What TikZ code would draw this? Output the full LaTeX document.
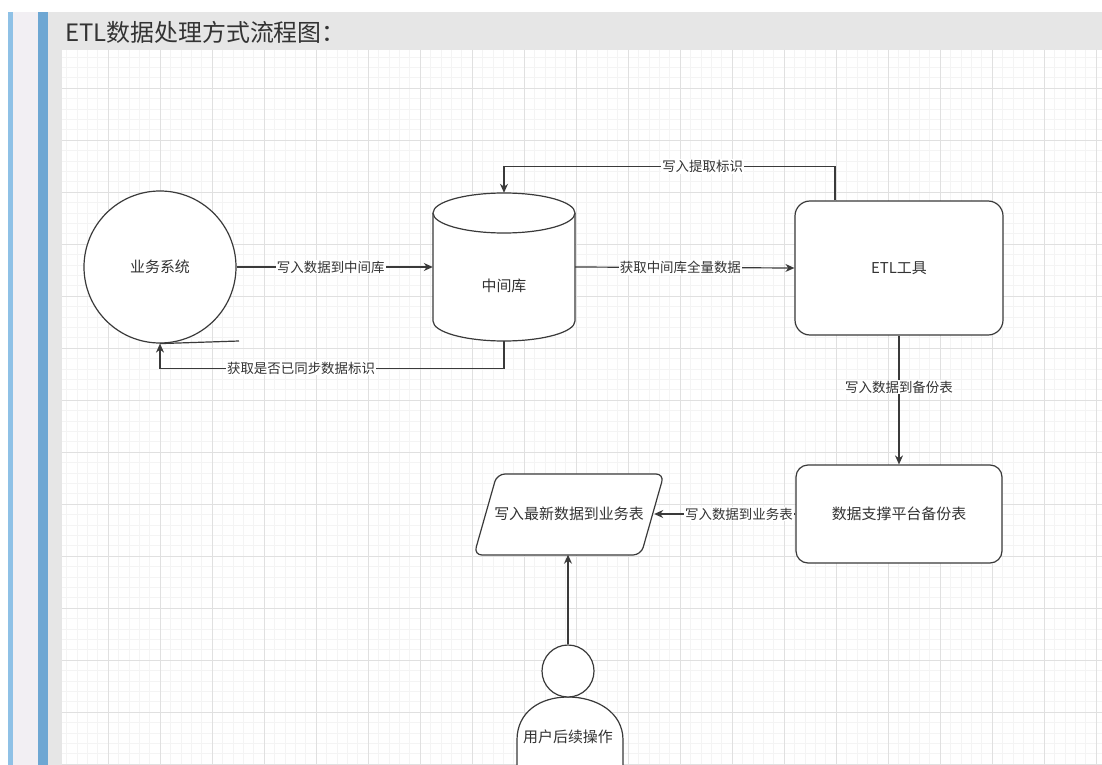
\documentclass[tikz,border=0pt]{standalone}
\usepackage{fontspec}
\setmainfont{Noto Sans CJK SC}
\usetikzlibrary{arrows.meta}

\definecolor{gridminor}{HTML}{F4F4F4}
\definecolor{gridmajor}{HTML}{E0E0E0}
\definecolor{headgray}{HTML}{E6E6E6}
\definecolor{barblue}{HTML}{6EA7D3}
\definecolor{barlight}{HTML}{8FC1E6}
\definecolor{barpale}{HTML}{F2EFF3}
\definecolor{linegray}{HTML}{3A3A3A}
\definecolor{textgray}{HTML}{333333}

\begin{document}
\begin{tikzpicture}[x=1bp, y=-1bp,
  flow/.style={-{Stealth[length=9bp,width=8bp]}, line width=1.2bp, draw=linegray},
  lbl/.style={fill=white, inner sep=1bp, font=\fontsize{13.5}{15}\selectfont, text=textgray},
  shapetext/.style={font=\fontsize{15}{17}\selectfont, text=textgray},
  box/.style={shapetext, draw=linegray, line width=1.2bp, fill=white}]
  \useasboundingbox (0,0) rectangle (1102,765);

  % Page frame and side bars
  \fill[white] (0,0) rectangle (1102,765);
  \fill[barlight] (8,12) rectangle (13,765);
  \fill[barpale] (13,12) rectangle (38,765);
  \fill[barblue] (38,12) rectangle (48,765);
  \fill[headgray] (48,12) rectangle (62,765);
  \fill[headgray] (48,12) rectangle (1102,50);
  \node[anchor=west, inner sep=0, font=\fontsize{24}{26}\selectfont, text=textgray] (title) at (65,32) {ETL数据处理方式流程图：};

  % Grid
  \foreach \k in {1,...,100}
    \draw[gridminor, line width=0.5bp] ({56+10.4*\k},50) -- ({56+10.4*\k},765);
  \foreach \k in {1,...,69}
    \draw[gridminor, line width=0.5bp] (62,{46.4+10.4*\k}) -- (1102,{46.4+10.4*\k});
  \foreach \gx in {108,160,...,1096}
    \draw[gridmajor, line width=0.6bp] (\gx,50) -- (\gx,765);
  \foreach \gy in {88,140,...,764}
    \draw[gridmajor, line width=0.6bp] (62,\gy) -- (1102,\gy);

  % Business system
  \node[box, circle, minimum size=152bp] (biz) at (160,267) {业务系统};
  \coordinate (stub) at (239,341);
  \draw[line width=1.2bp, linegray] (biz.south) -- (stub);

  % Intermediate database (cylinder)
  \node[minimum width=142bp, minimum height=148bp, inner sep=0] (mid) at (504,267) {};
  \filldraw[fill=white, draw=linegray, line width=1.2bp]
    (433,213) -- (433,321) arc[start angle=180, end angle=360, x radius=71bp, y radius=20bp] -- (575,213);
  \draw[fill=white, draw=linegray, line width=1.2bp] (504,213) ellipse [x radius=71bp, y radius=20bp];
  \node[shapetext] (midtext) at (504,286) {中间库};

  % ETL tool and backup table
  \node[box, rounded corners=15bp, minimum width=208bp, minimum height=134bp] (etl) at (899,268) {ETL工具};
  \node[box, rounded corners=12bp, minimum width=206bp, minimum height=98bp] (backup) at (899,514) {数据支撑平台备份表};

  % Write to business table (parallelogram)
  \filldraw[fill=white, draw=linegray, line width=1.2bp, rounded corners=8bp]
    (497,474) -- (664,474) -- (641,555) -- (474,555) -- cycle;
  \node[shapetext, minimum width=170bp, minimum height=81bp, inner sep=0] (latest) at (569,514) {写入最新数据到业务表};

  % User
  \filldraw[fill=white, draw=linegray, line width=1.2bp]
    (517,765) -- (517,740) .. controls (517,712) and (540,697) .. (568,697)
    .. controls (596,697) and (623,712) .. (623,740) -- (623,765);
  \node[draw=linegray, line width=1.2bp, fill=white, circle, minimum size=52bp, inner sep=0] (head) at (568,671) {};
  \node[shapetext] (user) at (568,737) {用户后续操作};

  % Connectors
  \draw[flow] (biz.east) -- node[lbl, pos=0.48] {写入数据到中间库} (mid.west);
  \draw[flow] (mid.east) -- node[lbl, pos=0.48] {获取中间库全量数据} (etl.west);
  \draw[flow] ([xshift=-64bp]etl.north) -- ++(0,-34) coordinate (topR)
    -- node[lbl, pos=0.4] {写入提取标识} (topR -| mid.north) -- (mid.north);
  \draw[flow] (mid.south) -- ++(0,27) coordinate (botR)
    -- node[lbl, pos=0.59] {获取是否已同步数据标识} (botR -| biz.south) -- (biz.south);
  \draw[flow] (etl.south) -- node[lbl, pos=0.4] {写入数据到备份表} (backup.north);
  \draw[flow] (backup.west) -- node[lbl, pos=0.4] {写入数据到业务表} (latest.east);
  \draw[flow] (head.north) -- (head.north |- latest.south);
\end{tikzpicture}
\end{document}
